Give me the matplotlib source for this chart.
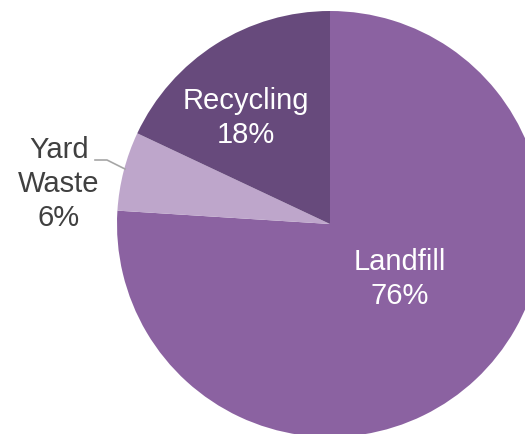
import matplotlib.pyplot as plt
import numpy as np

plt.rcParams['font.family'] = ['Liberation Sans', 'DejaVu Sans']

categories = ['Landfill', 'Yard Waste', 'Recycling']
shares = [76, 6, 18]
colors = ['#8B62A1', '#BEA6CB', '#674A7C']

W, H = 525, 435
fig = plt.figure(figsize=(W / 100, H / 100), dpi=100)
ax = fig.add_axes([0, 0, 1, 1])

cx, cy, r = 330, H - 225, 213
wedges, _ = ax.pie(shares, colors=colors, startangle=90, counterclock=False,
                   center=(cx, cy), radius=r, frame=True,
                   wedgeprops=dict(linewidth=0))
ax.set_xlim(0, W)
ax.set_ylim(0, H)
ax.axis('off')

fs = 21
ls = 1.26
ax.text(400, H - 279, f'{categories[0]}\n{shares[0]}%', ha='center', va='center',
        color='white', fontsize=fs, linespacing=ls)
ax.text(246, H - 118, f'{categories[2]}\n{shares[2]}%', ha='center', va='center',
        color='white', fontsize=fs, linespacing=ls)
ax.text(59, H - 184, 'Yard\nWaste\n6%', ha='center', va='center',
        color='#404040', fontsize=fs, linespacing=ls)

# leader line for yard waste
ax.plot([95, 107, 125], [H - 161, H - 161, H - 170], color='#A6A6A6', lw=1.2)

fig.savefig('out.png', dpi=100)
